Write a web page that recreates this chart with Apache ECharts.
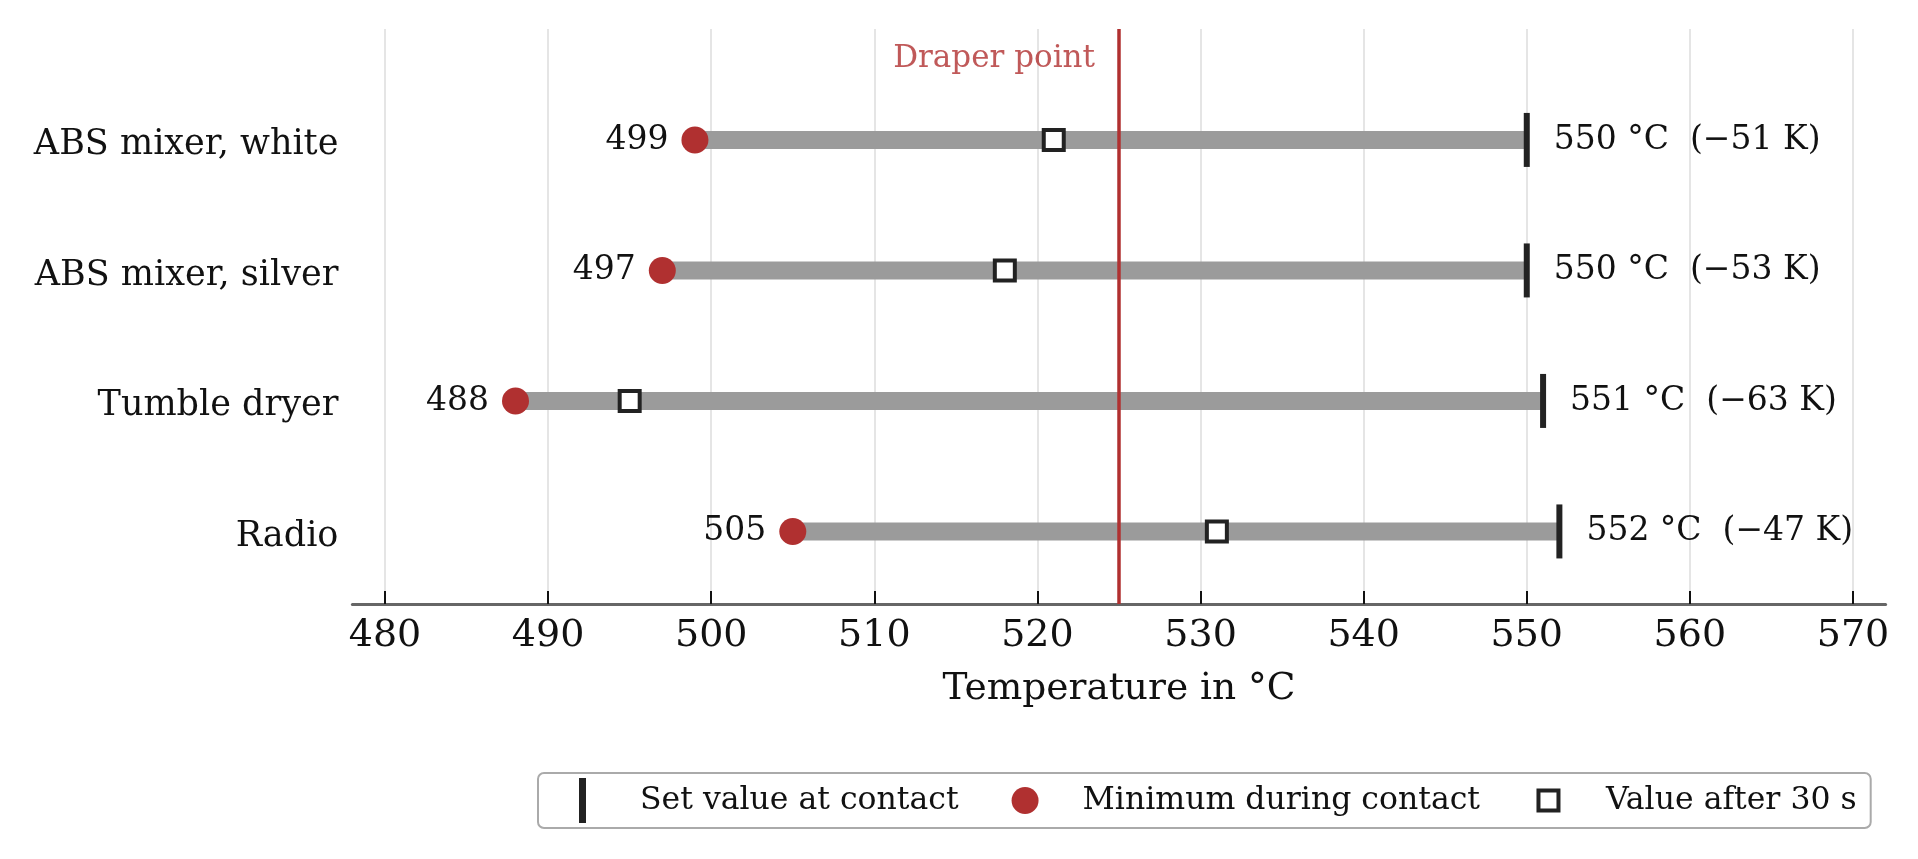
<!DOCTYPE html>
<html>
<head>
<meta charset="utf-8">
<script src="https://cdn.jsdelivr.net/npm/echarts@6/dist/echarts.min.js"></script>
<style>
html,body{margin:0;padding:0;background:#fff;}
#chart{width:1918px;height:859px;}
</style>
</head>
<body>
<div id="chart"></div>
<script>
// ---- data ----
const categories = ['ABS mixer, white', 'ABS mixer, silver', 'Tumble dryer', 'Radio'];
const setValues = [550, 550, 551, 552];
const minValues = [499, 497, 488, 505];
const after30Values = [521, 518, 495, 531];
const draperPoint = 525;
const xTickValues = [480, 490, 500, 510, 520, 530, 540, 550, 560, 570];
const seriesNames = ['Set value at contact', 'Minimum during contact', 'Value after 30 s'];

// ---- styles ----
const FONT = 'DejaVu Serif';
const RED = '#b03030';
const DARK = '#222222';
const GREY = '#9b9b9b';

const n = categories.length;
const rowPos = i => n - 1 - i;  // first category at the top

const rangeData = categories.map((c, i) => [minValues[i], setValues[i], rowPos(i)]);
const setData = categories.map((c, i) => [setValues[i], rowPos(i), minValues[i] - setValues[i]]);
const minData = categories.map((c, i) => [minValues[i], rowPos(i)]);
const afterData = categories.map((c, i) => [after30Values[i], rowPos(i)]);

const chart = echarts.init(document.getElementById('chart'), null, {renderer: 'canvas'});

const option = {
  backgroundColor: '#ffffff',
  animation: false,
  textStyle: {fontFamily: FONT},
  grid: {left: 352.4, right: 32.4, top: 29, bottom: 255, containLabel: false},
  xAxis: {
    type: 'value',
    min: 478, max: 572,
    name: 'Temperature in °C',
    nameLocation: 'middle',
    nameGap: 66,
    nameTextStyle: {fontFamily: FONT, fontSize: 37.5, color: '#111'},
    axisLine: {show: true, onZero: false, lineStyle: {color: '#666666', width: 3}},
    axisTick: {show: true, inside: true, length: 13, customValues: xTickValues, lineStyle: {color: '#111', width: 2}},
    axisLabel: {show: true, customValues: xTickValues, margin: 13, fontFamily: FONT, fontSize: 38, color: '#111'},
    splitLine: {show: true, lineStyle: {color: '#dddddd', width: 1.5}}
  },
  yAxis: {
    type: 'value',
    min: -0.556, max: 3.85,
    axisLine: {show: false},
    axisTick: {show: false},
    splitLine: {show: false},
    axisLabel: {
      show: true,
      customValues: categories.map((c, i) => rowPos(i)),
      formatter: v => '{c|' + categories[n - 1 - Math.round(v)] + '}',
      margin: 14,
      rich: {c: {fontFamily: FONT, fontSize: 35, color: '#111', padding: [10, 0, 0, 0]}},
      fontFamily: FONT, fontSize: 35, color: '#111'
    }
  },
  legend: {
    left: 538, top: 773,
    orient: 'horizontal',
    padding: [5, 14, 5, 41],
    itemWidth: 27, itemHeight: 45,
    itemGap: 53,
    borderColor: '#aaaaaa', borderWidth: 2, borderRadius: 6,
    backgroundColor: '#ffffff',
    selectedMode: false,
    textStyle: {fontFamily: FONT, fontSize: 31.5, color: '#111', padding: [0, 0, 0, 39]},
    data: [
      {name: seriesNames[0], icon: 'path://M0,0h7v45h-7z', itemStyle: {color: DARK}},
      {name: seriesNames[1], icon: 'circle', itemStyle: {color: RED}},
      {name: seriesNames[2], icon: 'path://M0,0M27,27M3.5,3.5h20v20h-20z', itemStyle: {color: '#ffffff', borderColor: DARK, borderWidth: 4}}
    ]
  },
  series: [
    {
      type: 'custom',
      name: 'range',
      silent: true,
      z: 1,
      encode: {x: [0, 1], y: 2},
      data: rangeData,
      renderItem: function (params, api) {
        const s = api.coord([api.value(0), api.value(2)]);
        const e = api.coord([api.value(1), api.value(2)]);
        return {
          type: 'line',
          shape: {x1: s[0], y1: s[1], x2: e[0], y2: e[1]},
          style: {stroke: GREY, lineWidth: 18, lineCap: 'butt'}
        };
      }
    },
    {
      type: 'scatter',
      name: seriesNames[0],
      z: 3,
      symbol: 'rect',
      symbolSize: [6, 54],
      itemStyle: {color: DARK, opacity: 1},
      data: setData,
      label: {
        show: true,
        position: 'right',
        distance: 24,
        fontFamily: FONT, fontSize: 33, color: '#111',
        formatter: p => p.value[0] + ' °C  (\u2212' + Math.abs(p.value[2]) + ' K)'
      }
    },
    {
      type: 'scatter',
      name: seriesNames[1],
      z: 4,
      symbol: 'circle',
      symbolSize: 27,
      itemStyle: {color: RED, opacity: 1},
      data: minData,
      label: {
        show: true,
        position: 'left',
        distance: 13,
        fontFamily: FONT, fontSize: 33, color: '#111',
        formatter: p => String(p.value[0])
      }
    },
    {
      type: 'scatter',
      name: seriesNames[2],
      z: 4,
      symbol: 'rect',
      symbolSize: 20,
      itemStyle: {color: '#ffffff', borderColor: DARK, borderWidth: 4, opacity: 1},
      data: afterData
    },
    {
      type: 'scatter',
      name: 'draper',
      z: 2,
      silent: true,
      symbolSize: 0,
      data: [[draperPoint, 3.62]],
      label: {
        show: true,
        position: 'left',
        distance: 24,
        fontFamily: FONT, fontSize: 31, color: RED,
        formatter: 'Draper point'
      },
      markLine: {
        silent: true,
        symbol: ['none', 'none'],
        z: 2,
        label: {show: false},
        lineStyle: {color: RED, width: 3.5, type: 'solid'},
        data: [{xAxis: draperPoint}]
      }
    }
  ]
};

chart.setOption(option);
</script>
</body>
</html>
